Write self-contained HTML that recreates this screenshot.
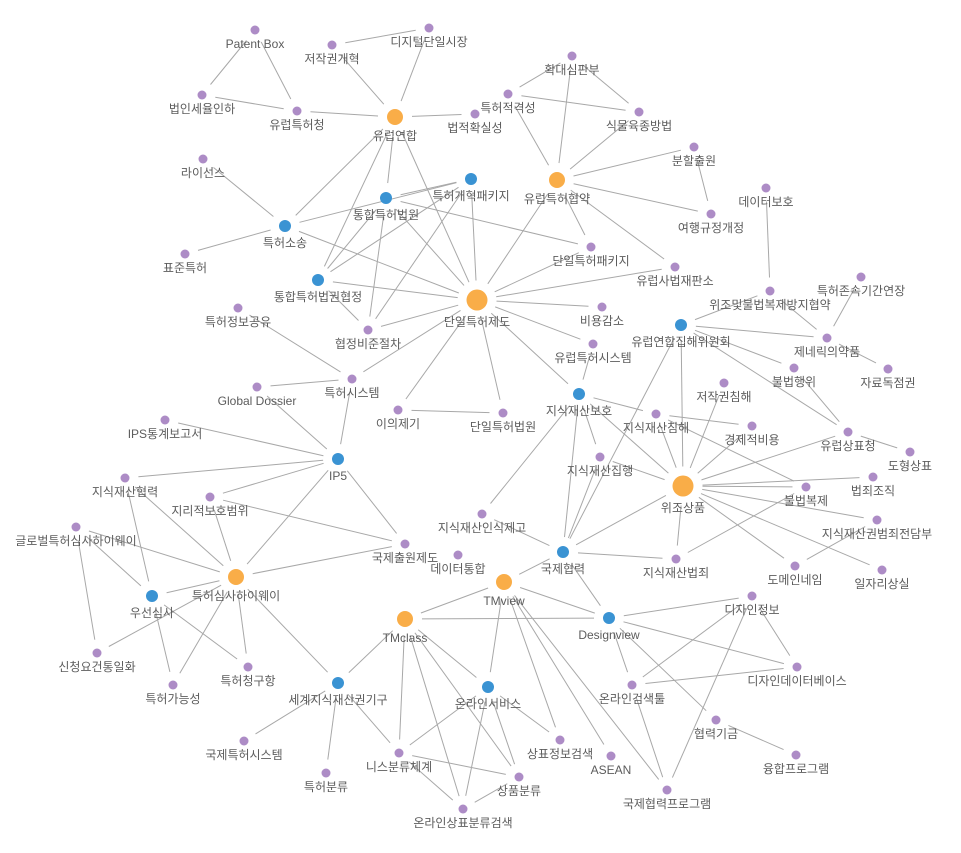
<!DOCTYPE html>
<html><head><meta charset="utf-8"><style>
html,body{margin:0;padding:0;background:#fff;}
svg{display:block;}
text{font-family:"Liberation Sans","Noto Sans CJK KR",sans-serif;font-size:12px;fill:#5c5c5c;text-anchor:middle;}
</style></head><body>
<svg id="g" width="961" height="853" xmlns="http://www.w3.org/2000/svg"></svg>
<script>
var N={
"Patent Box":[255,30,0],"디지털단일시장":[429,28,0],"저작권개혁":[332,45,0],"확대심판부":[572,56,0],
"법인세율인하":[202,95,0],"유럽특허청":[297,111,0],"유럽연합":[395,117,2],"특허적격성":[508,94,0],
"법적확실성":[475,114,0],"식물육종방법":[639,112,0],"분할출원":[694,147,0],"유럽특허협약":[557,180,2],
"라이선스":[203,159,0],"특허개혁패키지":[471,179,1],"통합특허법원":[386,198,1],"데이터보호":[766,188,0],
"여행규정개정":[711,214,0],"특허소송":[285,226,1],"단일특허패키지":[591,247,0],"표준특허":[185,254,0],
"유럽사법재판소":[675,267,0],"통합특허법권협정":[318,280,1],"단일특허제도":[477,300,3],"특허존속기간연장":[861,277,0],
"위조및불법복제방지협약":[770,291,0],"특허정보공유":[238,308,0],"비용감소":[602,307,0],"유럽연합집해위원회":[681,325,1],
"협정비준절차":[368,330,0],"제네릭의약품":[827,338,0],"유럽특허시스템":[593,344,0],"불법행위":[794,368,0],
"자료독점권":[888,369,0],"특허시스템":[352,379,0],"Global Dossier":[257,387,0],"저작권침해":[724,383,0],
"지식재산보호":[579,394,1],"이의제기":[398,410,0],"단일특허법원":[503,413,0],"지식재산침해":[656,414,0],
"경제적비용":[752,426,0],"유럽상표청":[848,432,0],"IPS통계보고서":[165,420,0],"도형상표":[910,452,0],
"IP5":[338,459,1],"지식재산집행":[600,457,0],"법죄조직":[873,477,0],"위조상품":[683,486,3],
"지식재산협력":[125,478,0],"불법복제":[806,487,0],"지리적보호범위":[210,497,0],"지식재산인식제고":[482,514,0],
"지식재산권범죄전담부":[877,520,0],"글로벌특허심사하이웨이":[76,527,0],"국제출원제도":[405,544,0],"데이터통합":[458,555,0],
"국제협력":[563,552,1],"지식재산법죄":[676,559,0],"도메인네임":[795,566,0],"일자리상실":[882,570,0],
"특허심사하이웨이":[236,577,2],"TMview":[504,582,2],"우선심사":[152,596,1],"디자인정보":[752,596,0],
"TMclass":[405,619,2],"Designview":[609,618,1],"디자인데이터베이스":[797,667,0],"세계지식재산권기구":[338,683,1],
"신청요건통일화":[97,653,0],"특허청구항":[248,667,0],"온라인검색툴":[632,685,0],"온라인서비스":[488,687,1],
"특허가능성":[173,685,0],"협력기금":[716,720,0],"국제특허시스템":[244,741,0],"상표정보검색":[560,740,0],
"니스분류체계":[399,753,0],"ASEAN":[611,756,0],"융합프로그램":[796,755,0],"특허분류":[326,773,0],
"상품분류":[519,777,0],"국제협력프로그램":[667,790,0],"온라인상표분류검색":[463,809,0]
};
var E=`Patent Box|법인세율인하
Patent Box|유럽특허청
법인세율인하|유럽특허청
유럽특허청|유럽연합
저작권개혁|유럽연합
저작권개혁|디지털단일시장
디지털단일시장|유럽연합
유럽연합|법적확실성
유럽연합|통합특허법원
유럽연합|특허소송
유럽연합|통합특허법권협정
유럽연합|단일특허제도
확대심판부|특허적격성
확대심판부|유럽특허협약
확대심판부|식물육종방법
특허적격성|식물육종방법
특허적격성|유럽특허협약
식물육종방법|유럽특허협약
유럽특허협약|분할출원
유럽특허협약|여행규정개정
유럽특허협약|단일특허패키지
유럽특허협약|유럽사법재판소
유럽특허협약|단일특허제도
분할출원|여행규정개정
특허소송|라이선스
특허소송|표준특허
특허소송|특허개혁패키지
특허소송|단일특허제도
통합특허법원|특허개혁패키지
통합특허법원|단일특허패키지
통합특허법원|협정비준절차
통합특허법원|통합특허법권협정
통합특허법원|단일특허제도
특허개혁패키지|단일특허제도
특허개혁패키지|통합특허법권협정
특허개혁패키지|협정비준절차
통합특허법권협정|단일특허제도
통합특허법권협정|협정비준절차
협정비준절차|단일특허제도
단일특허패키지|단일특허제도
유럽사법재판소|단일특허제도
단일특허제도|비용감소
단일특허제도|유럽특허시스템
단일특허제도|지식재산보호
단일특허제도|단일특허법원
단일특허제도|이의제기
단일특허제도|특허시스템
이의제기|단일특허법원
특허정보공유|특허시스템
특허시스템|Global Dossier
특허시스템|IP5
Global Dossier|IP5
IPS통계보고서|IP5
지식재산협력|IP5
지리적보호범위|IP5
IP5|특허심사하이웨이
IP5|국제출원제도
지리적보호범위|국제출원제도
지식재산협력|특허심사하이웨이
지식재산협력|우선심사
지리적보호범위|특허심사하이웨이
글로벌특허심사하이웨이|특허심사하이웨이
글로벌특허심사하이웨이|우선심사
글로벌특허심사하이웨이|신청요건통일화
우선심사|특허심사하이웨이
특허심사하이웨이|신청요건통일화
우선심사|특허청구항
우선심사|특허가능성
특허심사하이웨이|특허가능성
특허심사하이웨이|특허청구항
특허심사하이웨이|세계지식재산권기구
특허심사하이웨이|국제출원제도
TMclass|세계지식재산권기구
세계지식재산권기구|국제특허시스템
세계지식재산권기구|특허분류
세계지식재산권기구|니스분류체계
데이터보호|위조및불법복제방지협약
위조및불법복제방지협약|유럽연합집해위원회
위조및불법복제방지협약|제네릭의약품
특허존속기간연장|제네릭의약품
유럽연합집해위원회|제네릭의약품
유럽연합집해위원회|불법행위
유럽연합집해위원회|유럽상표청
유럽연합집해위원회|위조상품
유럽연합집해위원회|국제협력
제네릭의약품|자료독점권
불법행위|유럽상표청
유럽상표청|도형상표
유럽상표청|위조상품
지식재산보호|유럽특허시스템
지식재산보호|지식재산침해
지식재산보호|지식재산집행
지식재산보호|위조상품
지식재산보호|국제협력
지식재산보호|지식재산인식제고
지식재산침해|경제적비용
지식재산침해|위조상품
지식재산침해|불법복제
지식재산집행|위조상품
지식재산집행|국제협력
저작권침해|위조상품
경제적비용|위조상품
위조상품|법죄조직
위조상품|불법복제
위조상품|지식재산권범죄전담부
위조상품|도메인네임
위조상품|일자리상실
위조상품|지식재산법죄
위조상품|국제협력
불법복제|지식재산법죄
지식재산권범죄전담부|도메인네임
국제협력|지식재산인식제고
국제협력|지식재산법죄
국제협력|TMview
국제협력|Designview
TMview|TMclass
TMview|Designview
TMview|온라인서비스
TMview|상표정보검색
TMview|ASEAN
TMview|국제협력프로그램
TMclass|Designview
TMclass|니스분류체계
TMclass|온라인상표분류검색
TMclass|상품분류
TMclass|온라인서비스
온라인서비스|니스분류체계
온라인서비스|온라인상표분류검색
온라인서비스|상품분류
온라인서비스|상표정보검색
니스분류체계|상품분류
니스분류체계|온라인상표분류검색
상품분류|온라인상표분류검색
Designview|디자인정보
Designview|디자인데이터베이스
Designview|온라인검색툴
Designview|협력기금
디자인정보|온라인검색툴
디자인정보|국제협력프로그램
디자인정보|디자인데이터베이스
온라인검색툴|디자인데이터베이스
온라인검색툴|국제협력프로그램
협력기금|융합프로그램`;
var R=[4.5,6,8,10.5], COL=["#ad8cc6","#3a93d3","#f9ad48","#f9ad48"], OFF=[14,17,19,22];
var s="";
E.split("\n").forEach(function(l){
 var p=l.split("|"),a=N[p[0]],b=N[p[1]];if(!a||!b)return;
 var dx=b[0]-a[0],dy=b[1]-a[1],d=Math.sqrt(dx*dx+dy*dy);
 var ga=R[a[2]]+9,gb=R[b[2]]+9;if(ga+gb>d-4){ga=R[a[2]]+2;gb=R[b[2]]+2;}
 var ux=dx/d,uy=dy/d;
 s+='<line x1="'+(a[0]+ux*ga).toFixed(1)+'" y1="'+(a[1]+uy*ga).toFixed(1)+'" x2="'+(b[0]-ux*gb).toFixed(1)+'" y2="'+(b[1]-uy*gb).toFixed(1)+'" stroke="#a8a8a8" stroke-width="1"/>';
});
for(var k in N){var n=N[k];
 s+='<circle cx="'+n[0]+'" cy="'+n[1]+'" r="'+R[n[2]]+'" fill="'+COL[n[2]]+'"/>';
 s+='<text x="'+n[0]+'" y="'+(n[1]+OFF[n[2]]+4)+'">'+k+'</text>';
}
document.getElementById("g").innerHTML=s;
</script>
</body></html>
